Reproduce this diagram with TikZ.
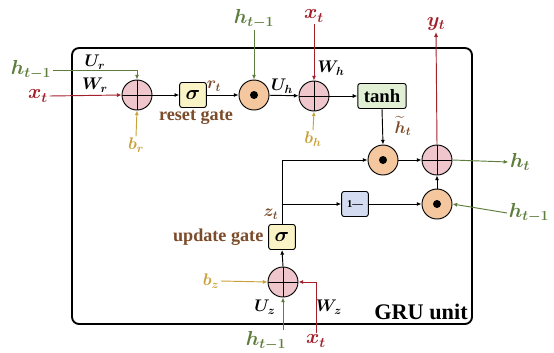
\documentclass[tikz,border=0pt]{standalone}
\usepackage{amsmath}
\usepackage{bm}
\usepackage{fontspec}
\setmainfont{Liberation Serif}
\usetikzlibrary{arrows.meta,positioning,calc}
\definecolor{histgreen}{HTML}{5E7D3C}
\definecolor{inred}{HTML}{A2202A}
\definecolor{biasgold}{HTML}{C9A13B}
\definecolor{gatebrown}{HTML}{7B4B2A}
\definecolor{sumfill}{HTML}{EFC6CB}
\definecolor{prodfill}{HTML}{F4C79F}
\definecolor{sigfill}{HTML}{FAF3C6}
\definecolor{tanhfill}{HTML}{E1EFD5}
\definecolor{onefill}{HTML}{D3DCF1}

\begin{document}
\begin{tikzpicture}[x=0.03cm,y=-0.03cm,>={Latex[length=4pt,width=3.5pt]},line width=0.8pt,
 sumnode/.style={circle,draw,fill=sumfill,minimum size=0.9cm,inner sep=0pt,
  path picture={\draw[black] (path picture bounding box.north) -- (path picture bounding box.south)
   (path picture bounding box.west) -- (path picture bounding box.east);}},
 prodnode/.style={circle,draw,fill=prodfill,minimum size=0.9cm,inner sep=0pt,
  path picture={\fill[black] (path picture bounding box.center) circle (0.12cm);}},
 gatebox/.style={draw,rounded corners=2pt,minimum width=0.8cm,minimum height=0.75cm,inner sep=1pt,
  font=\bfseries\fontsize{16}{18}\selectfont},
 biglbl/.style={font=\fontsize{18}{20}\selectfont,inner sep=1pt},
 smalllbl/.style={font=\fontsize{14}{16}\selectfont,inner sep=1pt},
 gatename/.style={font=\bfseries\fontsize{15.5}{18}\selectfont,gatebrown,inner sep=1pt}]
\useasboundingbox (0,0) rectangle (554,352);
\draw[line width=1.6pt,rounded corners=6pt] (72,48) rectangle (472,324);
\node[sumnode] (sumr) at (137,95) {};
\node[gatebox,fill=sigfill] (sigr) at (193,95) {$\bm{\sigma}$};
\node[prodnode] (prodr) at (254,95) {};
\node[sumnode] (sumh) at (314,96) {};
\node[gatebox,fill=tanhfill,minimum width=1.45cm] (tanh) at (382,96) {tanh};
\node[prodnode] (prodc) at (383,160) {};
\node[sumnode] (sumo) at (437,160) {};
\node[gatebox,fill=onefill,font=\bfseries\small] (onem) at (355,204) {1---};
\node[prodnode] (prodz) at (437,204) {};
\node[gatebox,fill=sigfill] (sigz) at (282,237) {$\bm{\sigma}$};
\node[sumnode] (sumz) at (283,282) {};
\node[biglbl,histgreen] (hleft) at (31,70) {$\bm{h_{t-1}}$};
\node[biglbl,inred] (xleft) at (38,96) {$\bm{x_t}$};
\node[smalllbl,biasgold] (br) at (136,145) {$\bm{b_r}$};
\node[biglbl,histgreen] (htop) at (254,19) {$\bm{h_{t-1}}$};
\node[biglbl,inred] (xtop) at (314,16) {$\bm{x_t}$};
\node[smalllbl,biasgold] (bh) at (313,139) {$\bm{b_h}$};
\node[biglbl,inred] (yout) at (436,24) {$\bm{y_t}$};
\node[biglbl,histgreen] (hout) at (520,162) {$\bm{h_t}$};
\node[biglbl,histgreen] (hright) at (529,213) {$\bm{h_{t-1}}$};
\node[smalllbl,biasgold] (bz) at (211,281) {$\bm{b_z}$};
\node[biglbl,histgreen] (hbot) at (266,341) {$\bm{h_{t-1}}$};
\node[biglbl,inred] (xbot) at (316,341) {$\bm{x_t}$};
\node[smalllbl] at (95,62) {$\bm{U_r}$};
\node[smalllbl] at (95,85) {$\bm{W_r}$};
\node[smalllbl,gatebrown] at (214,86) {$\bm{r_t}$};
\node[gatename] at (196,117) {reset gate};
\node[smalllbl] at (282,86) {$\bm{U_h}$};
\node[smalllbl] at (331,68) {$\bm{W_h}$};
\node[smalllbl,gatebrown,inner sep=0pt] at (403,126) {$\bm{\widetilde{h}_t}$};
\node[smalllbl,gatebrown] at (271,214) {$\bm{z_t}$};
\node[gatename,anchor=east] at (265,237) {update gate};
\node[smalllbl] at (265,307) {$\bm{U_z}$};
\node[smalllbl] at (329,307) {$\bm{W_z}$};
\node[font=\bfseries\fontsize{19}{21}\selectfont,inner sep=1pt] at (421,312) {GRU unit};
\coordinate (split) at (sigz.north |- onem.west);
\draw[->,histgreen] (hleft.east) -| (sumr.north);
\draw[->,inred] (xleft.east) -- (sumr.west);
\draw[->,biasgold] (br.north) -- (sumr.south);
\draw[->] (sumr) -- (sigr);
\draw[->] (sigr) -- (prodr);
\draw[->,histgreen] (htop.south) -- (prodr.north);
\draw[->] (prodr) -- (sumh);
\draw[->,inred] (xtop.south) -- (sumh.north);
\draw[->,biasgold] (bh.north) -- (sumh.south);
\draw[->] (sumh) -- (tanh);
\draw[->] (tanh.south) -- (prodc.north);
\draw[->] (prodc) -- (sumo);
\draw[->,inred] (sumo.north) -- (yout.south);
\draw[->,histgreen] (sumo.east) -- (hout.west);
\draw[->] (prodz.north) -- (sumo.south);
\draw[->,histgreen] (hright.west) -- (prodz.east);
\draw[->] (onem) -- (prodz);
\draw[->] (sigz.north) |- (prodc.west);
\draw[->] (split) -- (onem.west);
\draw[->] (sumz.north) -- (sigz.south);
\draw[->,biasgold] (bz.east) -- (sumz.west);
\draw[->,histgreen] (sumz |- hbot.north) -- (sumz.south);
\draw[->,inred] (xbot.north) |- (sumz.east);
\end{tikzpicture}
\end{document}
